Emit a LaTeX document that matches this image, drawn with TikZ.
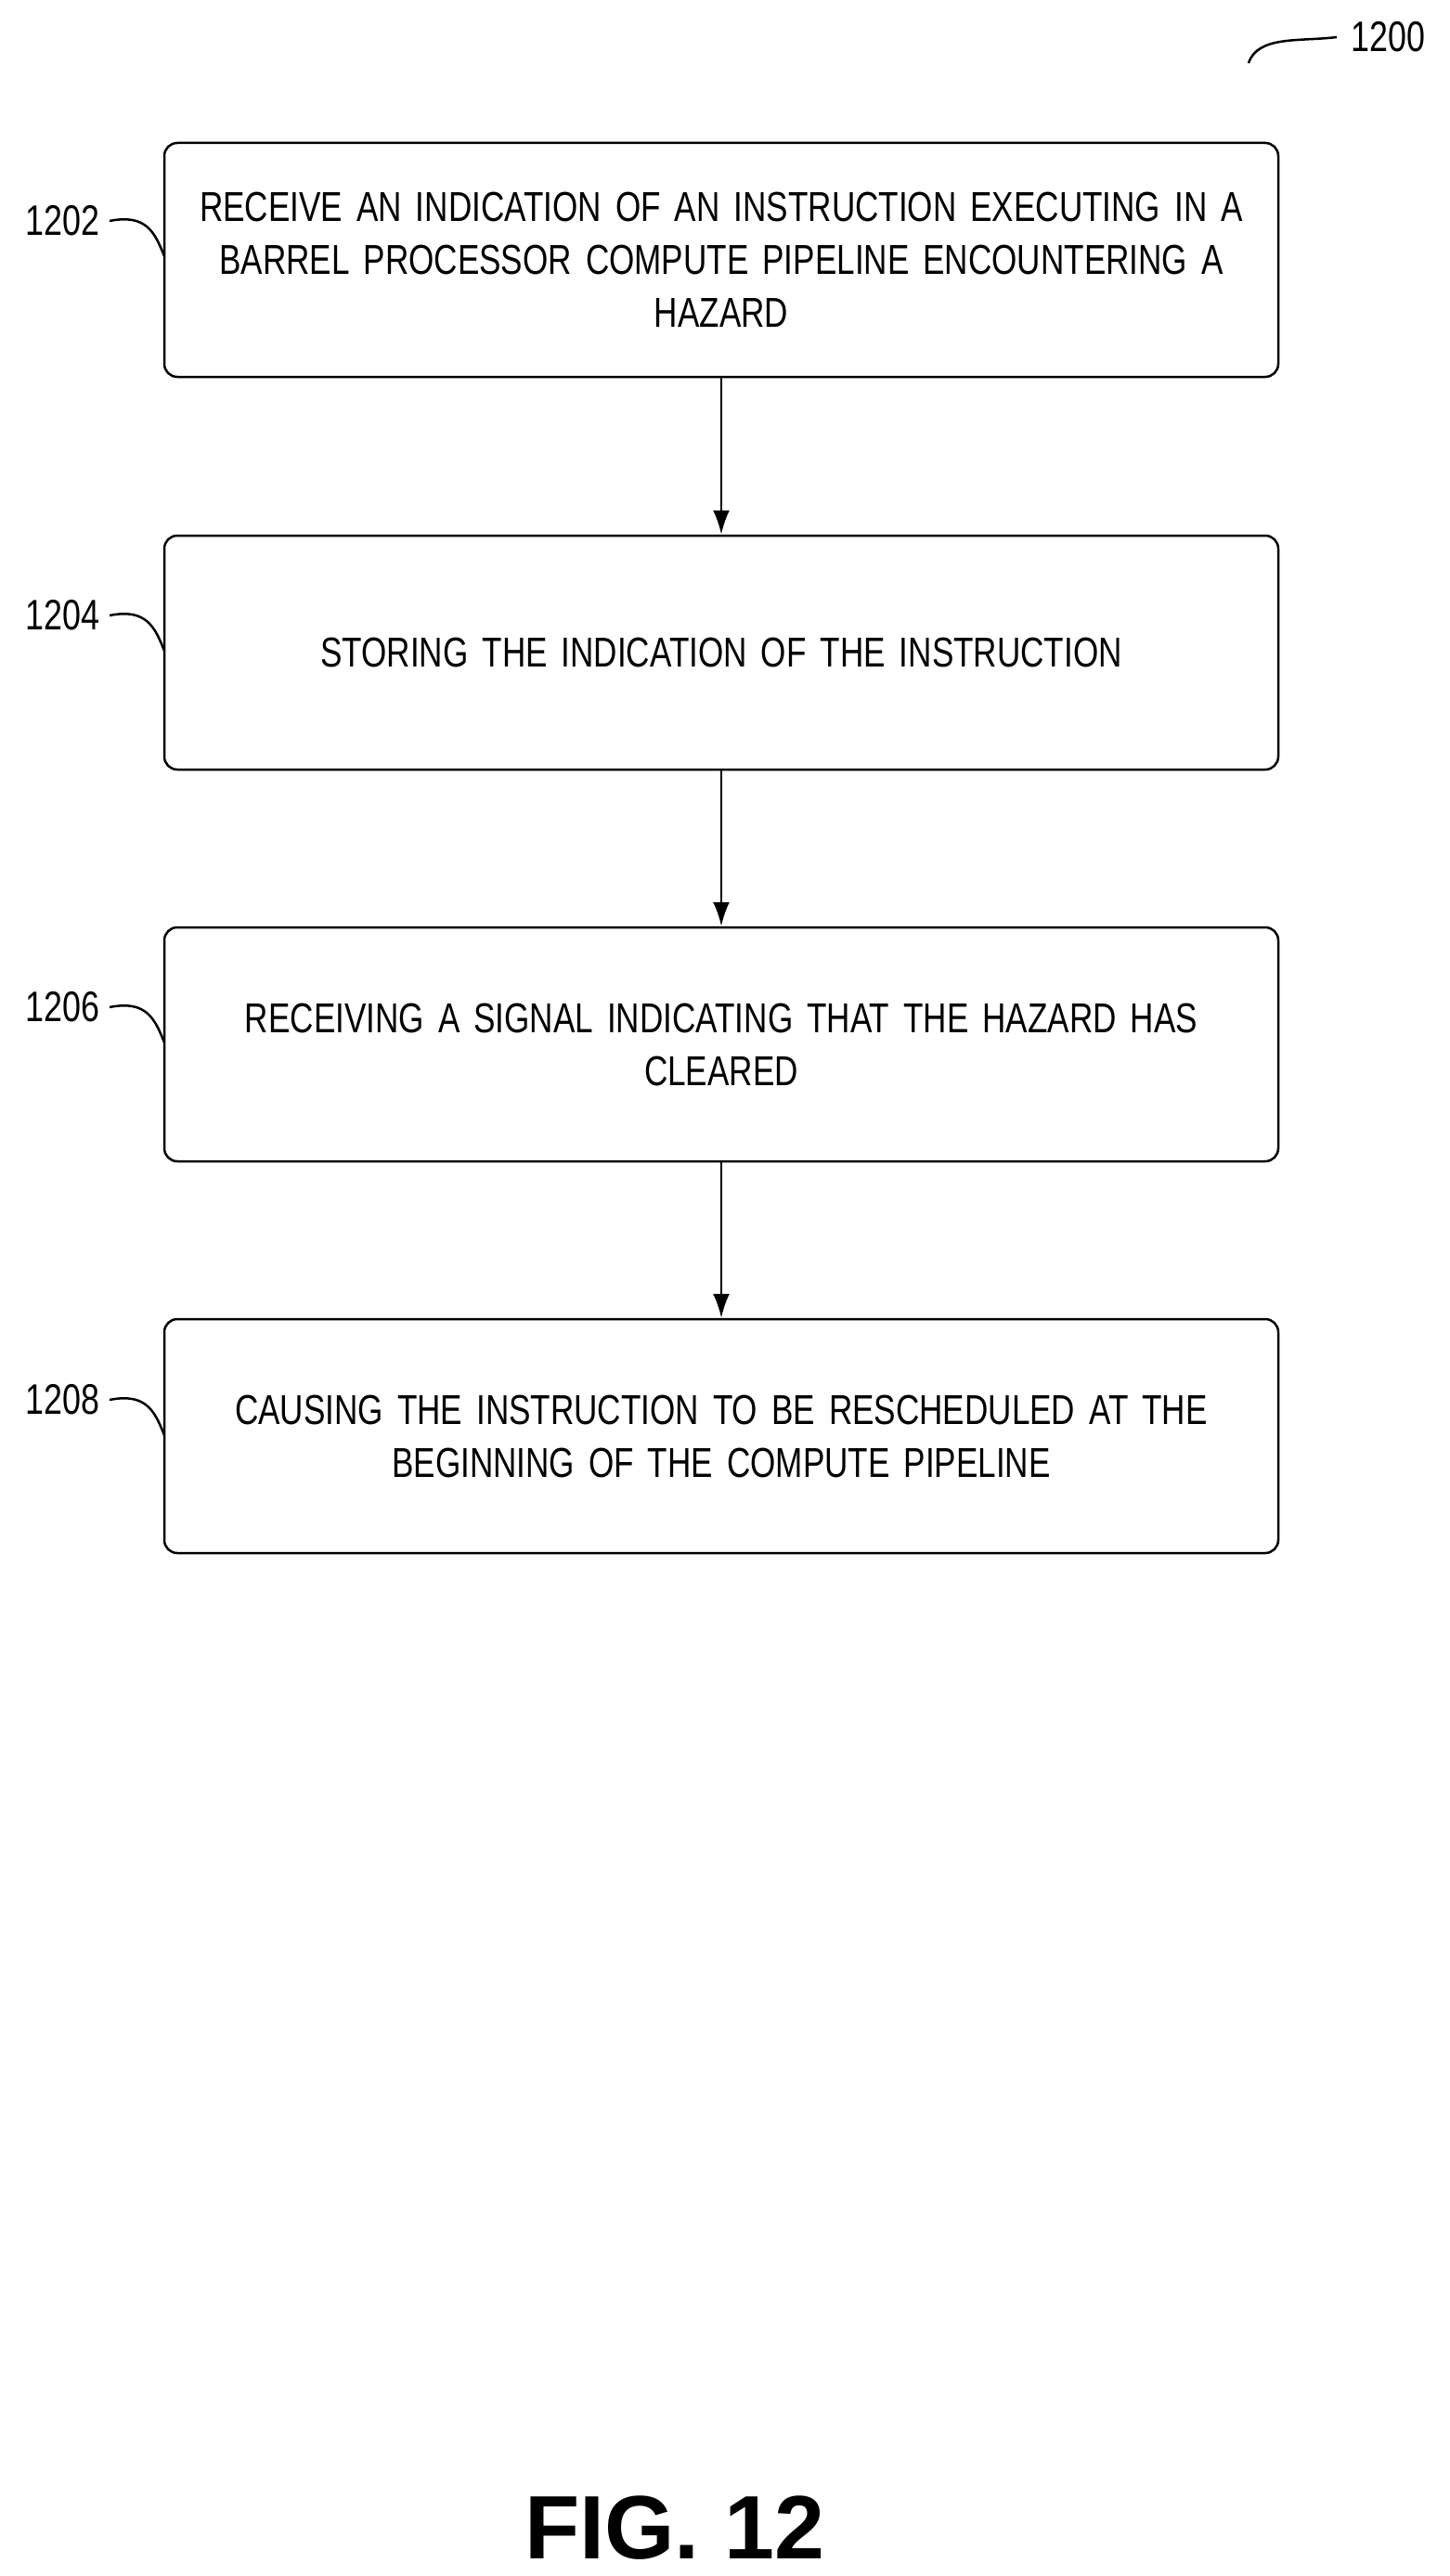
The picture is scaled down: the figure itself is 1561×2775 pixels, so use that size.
\documentclass[tikz,border=0pt]{standalone}
\usepackage{fontspec}
\setmainfont[FakeStretch=0.78]{Liberation Sans}
\newfontfamily\boldf{Liberation Sans}
\usetikzlibrary{arrows.meta}
\begin{document}
\begin{tikzpicture}[x=1pt,y=-1pt,
 box/.style={draw,line width=2.5pt,rounded corners=14pt,minimum width=1200pt,minimum height=252pt,text width=1180pt,align=center,font=\fontsize{45}{57}\selectfont,inner sep=0pt},
 arr/.style={line width=2.5pt,-{Latex[length=26pt,width=18pt]}},
 lab/.style={font=\fontsize{46}{52}\selectfont,anchor=east,inner sep=0pt},
 sq/.style={line width=2.5pt}]
\useasboundingbox (0,0) rectangle (1561,2775);
\node[box] (b1) at (777,280) {RECEIVE AN INDICATION OF AN INSTRUCTION EXECUTING IN A\\ BARREL PROCESSOR COMPUTE PIPELINE ENCOUNTERING A\\ HAZARD};
\node[box] (b2) at (777,703) {STORING THE INDICATION OF THE INSTRUCTION};
\node[box] (b3) at (777,1125) {RECEIVING A SIGNAL INDICATING THAT THE HAZARD HAS\\ CLEARED};
\node[box] (b4) at (777,1547) {CAUSING THE INSTRUCTION TO BE RESCHEDULED AT THE\\ BEGINNING OF THE COMPUTE PIPELINE};
\draw[arr] (b1) -- (b2);
\draw[arr] (b2) -- (b3);
\draw[arr] (b3) -- (b4);
\foreach \n/\t/\y in {b1/1202/238,b2/1204/663,b3/1206/1085,b4/1208/1508}{
 \node[lab] (l\n) at (108,\y) {\t};
 \coordinate (e\n) at (177,\y+38);
 \draw[sq] (l\n.east) ++(10,0) .. controls +(40,-8) and +(-10,-25) .. (e\n);
}
\node[font=\fontsize{46}{52}\selectfont,anchor=west,inner sep=0pt] (fig) at (1455,40) {1200};
\coordinate (t) at (1345,68);
\draw[sq] (t) .. controls +(10,-30) and +(-40,5) .. (1440,40);
\node[font=\boldf\bfseries\fontsize{97}{110}\selectfont] (cap) at (727,2723) {FIG. 12};
\end{tikzpicture}
\end{document}
